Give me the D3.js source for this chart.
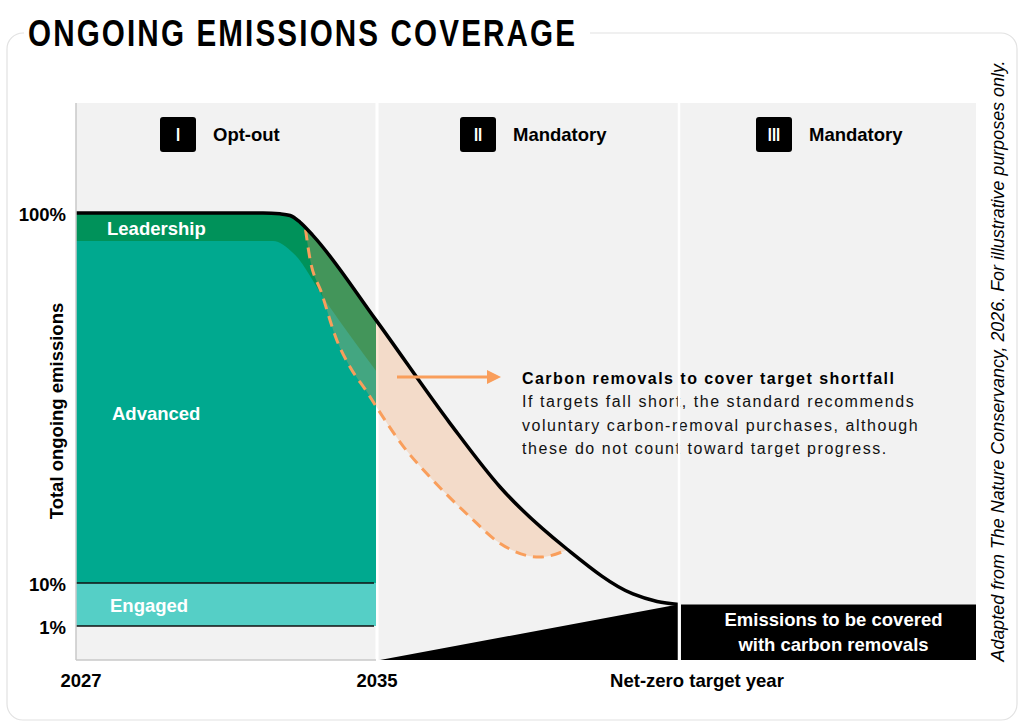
<!DOCTYPE html>
<html><head><meta charset="utf-8">
<script src="https://cdn.jsdelivr.net/npm/d3@7/dist/d3.min.js"></script>
<style>body{margin:0;background:#fff}</style>
</head><body>
<svg id="chart" width="1024" height="728"></svg>
<script>
// ---------- data ----------
const chartTitle = "ONGOING EMISSIONS COVERAGE";
const phaseNumerals = ["I", "II", "III"];
const phaseNames = ["Opt-out", "Mandatory", "Mandatory"];
const phaseBounds = [2027, 2035, 2043, 2051];
const xTickYears = [2027, 2035, 2043];
const xTickLabels = ["2027", "2035", "Net-zero target year"];
const yTickValues = [100, 10, 1];
const yTickLabels = ["100%", "10%", "1%"];
const yAxisTitle = "Total ongoing emissions";

// total ongoing emissions (% of 2027 level)
const totalYears  = [2027, 2031.97, 2032.42, 2032.69, 2032.95, 2033.30, 2034.97, 2036.93, 2038.26, 2040.03, 2041.78, 2042.42, 2043];
const totalValues = [100, 100, 99.8, 99.4, 97.8, 94.5, 74.0, 48.9, 33.35, 18.27, 7.7, 6.13, 5.5];
// upper edge of the "Advanced" band
const advancedYears  = [2027, 2032.24, 2032.77, 2033.67, 2035];
const advancedValues = [93.2, 93.2, 90.3, 78.1, 61.3];
// shortfall pathway (dashed)
const shortfallYears  = [2033.1, 2033.21, 2033.53, 2033.93, 2034.28, 2034.73, 2035.0, 2035.69, 2036.4, 2037.46, 2038.25, 2039.31, 2040.05];
const shortfallValues = [96.0, 89.3, 80.5, 69.1, 62.6, 56.5, 52.6, 43.3, 35.8, 26.1, 19.7, 16.3, 18.1];
const engagedBand = [1, 10];
const residualAtNetZero = 5.5;

const bandLabels = ["Leadership", "Advanced", "Engaged"];
const noteTitle = "Carbon removals to cover target shortfall";
const noteLines = ["If targets fall short, the standard recommends",
                   "voluntary carbon-removal purchases, although",
                   "these do not count toward target progress."];
const boxLines = ["Emissions to be covered", "with carbon removals"];
const sourceNote = "Adapted from The Nature Conservancy, 2026. For illustrative purposes only.";

// ---------- setup ----------
const SANS = "'Liberation Sans',Arial,Helvetica,sans-serif";
const ORANGE = "#f99e5b";
const svg = d3.select("#chart");
const plotTop = 103, plotBottom = 660;

const x = d3.scaleLinear().domain(phaseBounds).range([76, 377, 679, 976]);
const y = d3.scaleLinear().domain([0, 1, 10, 100]).range([plotBottom, 626, 583, 213]);

// frame
svg.append("rect").attr("x", 7).attr("y", 33).attr("width", 1010).attr("height", 687)
  .attr("rx", 16).attr("fill", "#fff").attr("stroke", "#e2e2e2").attr("stroke-width", 1.2);
svg.append("rect").attr("x", 24).attr("y", 18).attr("width", 566).attr("height", 32).attr("fill", "#fff");
svg.append("text").attr("transform", "translate(28,46) scale(0.8,1)").text(chartTitle)
  .attr("font-family", SANS).attr("font-weight", "bold").attr("font-size", 37)
  .attr("textLength", 547 / 0.8).attr("lengthAdjust", "spacing").attr("fill", "#000");

// panel backgrounds
const defs = svg.append("defs");
phaseBounds.slice(0, 3).forEach((b, i) => {
  svg.append("rect").attr("x", x(b)).attr("y", plotTop)
    .attr("width", x(phaseBounds[i + 1]) - x(b)).attr("height", plotBottom - plotTop)
    .attr("fill", "#f2f2f2");
});
// first divider (under fills)
svg.append("line").attr("x1", x(2035)).attr("x2", x(2035)).attr("y1", plotTop).attr("y2", plotBottom)
  .attr("stroke", "#fff").attr("stroke-width", 3);

defs.append("clipPath").attr("id", "p1").append("rect")
  .attr("x", x(2027)).attr("y", plotTop).attr("width", x(2035) - x(2027) - 1).attr("height", plotBottom - plotTop);

const totalPts = totalYears.map((t, i) => [t, totalValues[i]]);
const advPts = advancedYears.map((t, i) => [t, advancedValues[i]]);
const shortPts = shortfallYears.map((t, i) => [t, shortfallValues[i]]);

const curve = d3.curveMonotoneX;
const g1 = svg.append("g").attr("clip-path", "url(#p1)");
g1.append("path").datum(totalPts)
  .attr("d", d3.area().curve(curve).x(d => x(d[0])).y0(y(10)).y1(d => y(d[1])))
  .attr("fill", "#00925a");
g1.append("path").datum(advPts)
  .attr("d", d3.area().curve(curve).x(d => x(d[0])).y0(y(10)).y1(d => y(d[1])))
  .attr("fill", "#00a98f");
g1.append("rect").attr("x", x(2027)).attr("width", x(2035) - x(2027))
  .attr("y", y(engagedBand[1])).attr("height", y(engagedBand[0]) - y(engagedBand[1]))
  .attr("fill", "#55cfc6");
[10, 1].forEach(v => {
  svg.append("line").attr("x1", x(2027)).attr("x2", x(2035) - 3).attr("y1", y(v)).attr("y2", y(v))
    .attr("stroke", "#111").attr("stroke-width", 1.5);
});

// shortfall region = under total curve ∩ above dashed curve
defs.append("clipPath").attr("id", "aboveShort").append("path").datum(shortPts)
  .attr("d", d3.area().curve(curve).x(d => x(d[0])).y0(plotTop).y1(d => y(d[1])));
svg.append("g").attr("clip-path", "url(#aboveShort)")
  .append("path").datum(totalPts)
  .attr("d", d3.area().curve(curve).x(d => x(d[0])).y0(plotBottom).y1(d => y(d[1])))
  .attr("fill", ORANGE).attr("fill-opacity", 0.27);

// black triangle + residual box
svg.append("path")
  .attr("d", d3.line()([[x(2035) + 3, y(0)], [x(2043) - 1, y(residualAtNetZero)], [x(2043) - 1, y(0)]]) + "Z")
  .attr("fill", "#000");
svg.append("rect").attr("x", x(2043) + 2).attr("y", y(residualAtNetZero))
  .attr("width", x(2051) - x(2043) - 2).attr("height", y(0) - y(residualAtNetZero)).attr("fill", "#000");

// dashed shortfall line
svg.append("path").datum(shortPts)
  .attr("d", d3.line().curve(curve).x(d => x(d[0])).y(d => y(d[1])))
  .attr("fill", "none").attr("stroke", ORANGE).attr("stroke-width", 3).attr("stroke-dasharray", "11,7");
// total line
svg.append("path").datum(totalPts)
  .attr("d", d3.line().curve(curve).x(d => x(d[0])).y(d => y(d[1])))
  .attr("fill", "none").attr("stroke", "#000").attr("stroke-width", 3.5);

// axes lines
svg.append("line").attr("x1", 76).attr("x2", 76).attr("y1", plotTop).attr("y2", plotBottom)
  .attr("stroke", "#c8c8c8").attr("stroke-width", 1.5);
svg.append("line").attr("x1", 76).attr("x2", x(2035) - 1).attr("y1", plotBottom).attr("y2", plotBottom)
  .attr("stroke", "#c8c8c8").attr("stroke-width", 1.5);

// band labels
const bandPos = [[107, 235], [112, 420], [110, 612]];
bandLabels.forEach((t, i) => {
  svg.append("text").attr("x", bandPos[i][0]).attr("y", bandPos[i][1]).text(t)
    .attr("font-family", SANS).attr("font-weight", "bold").attr("font-size", 18.5).attr("fill", "#fff");
});

// y tick labels
yTickValues.forEach((v, i) => {
  svg.append("text").attr("x", 66).attr("y", y(v) + 8).attr("text-anchor", "end").text(yTickLabels[i])
    .attr("font-family", SANS).attr("font-weight", "bold").attr("font-size", 18.5).attr("fill", "#000");
});
svg.append("text").attr("transform", "translate(63,411) rotate(-90)").attr("text-anchor", "middle")
  .text(yAxisTitle).attr("font-family", SANS).attr("font-weight", "bold").attr("font-size", 18.5);

// x tick labels
const xLabelShift = [5, 0, 18];
xTickYears.forEach((t, i) => {
  svg.append("text").attr("x", x(t) + xLabelShift[i]).attr("y", 687).attr("text-anchor", "middle")
    .text(xTickLabels[i]).attr("font-family", SANS).attr("font-weight", "bold").attr("font-size", 18.5);
});

// phase headers
const headerBoxX = [160, 460, 756];
phaseNames.forEach((name, i) => {
  const x0 = headerBoxX[i];
  svg.append("rect").attr("x", x0).attr("y", 117).attr("width", 36).attr("height", 35).attr("rx", 3).attr("fill", "#000");
  svg.append("text").attr("x", x0 + 18).attr("y", 141).attr("text-anchor", "middle").text(phaseNumerals[i])
    .attr("font-family", SANS).attr("font-weight", "bold").attr("font-size", 18.5).attr("fill", "#fff")
    .attr("transform", `translate(${(x0 + 18) * 0.2},0) scale(0.8,1)`);
  svg.append("text").attr("x", x0 + 53).attr("y", 141).text(name)
    .attr("font-family", SANS).attr("font-weight", "bold").attr("font-size", 18.5);
});

// annotation arrow
svg.append("line").attr("x1", 397).attr("x2", 489).attr("y1", 377).attr("y2", 377)
  .attr("stroke", ORANGE).attr("stroke-width", 3);
svg.append("path").attr("d", "M487,370 L501,377 L487,384 Z").attr("fill", ORANGE);
svg.append("text").attr("x", 522).attr("y", 384).text(noteTitle)
  .attr("font-family", SANS).attr("font-weight", "bold").attr("font-size", 16).attr("letter-spacing", 1.45);
noteLines.forEach((t, i) => {
  svg.append("text").attr("x", 522).attr("y", 407 + i * 23.5).text(t)
    .attr("font-family", SANS).attr("font-size", 16).attr("letter-spacing", 1.55).attr("fill", "#111");
});

// residual box text
boxLines.forEach((t, i) => {
  svg.append("text").attr("x", (x(2043) + x(2051)) / 2 + 6).attr("y", 626 + i * 25).attr("text-anchor", "middle")
    .text(t).attr("font-family", SANS).attr("font-weight", "bold").attr("font-size", 18.5).attr("fill", "#fff");
});

// second divider (drawn on top)
svg.append("line").attr("x1", x(2043)).attr("x2", x(2043)).attr("y1", plotTop).attr("y2", plotBottom)
  .attr("stroke", "#fff").attr("stroke-width", 2.5);

// source note
svg.append("text").attr("transform", "translate(1004,361) rotate(-90)").attr("text-anchor", "middle")
  .text(sourceNote).attr("font-family", SANS).attr("font-style", "italic").attr("font-size", 17.9).attr("fill", "#000");
</script>
</body></html>
